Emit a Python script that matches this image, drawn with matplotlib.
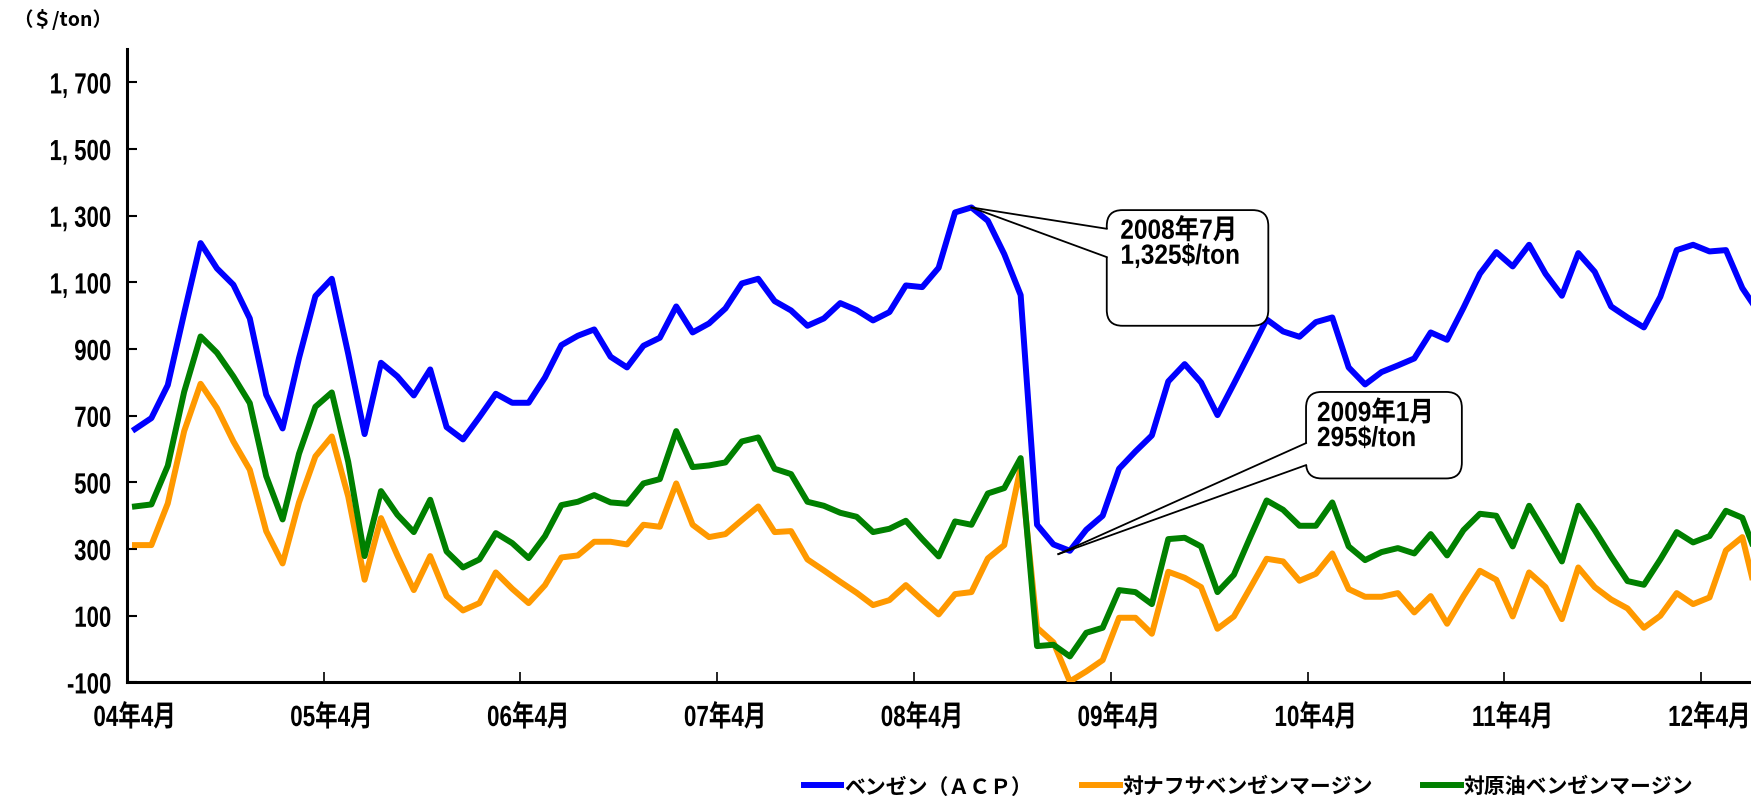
import matplotlib
matplotlib.use('Agg')
import matplotlib.pyplot as plt
from matplotlib.patches import FancyBboxPatch, Polygon
from matplotlib.lines import Line2D
from matplotlib.font_manager import FontProperties
from matplotlib.patheffects import AbstractPathEffect
from matplotlib.transforms import Affine2D
import pandas as pd

LAT = 'Liberation Sans'
JP = 'Noto Sans CJK JP'

# ---------------- data ----------------
months = pd.period_range('2004-04', periods=100, freq='M')

benzene_acp = [660, 693, 792, 1008, 1218, 1142, 1093, 992, 763, 662,
               873, 1059, 1111, 886, 645, 859, 818, 761, 839, 666,
               629, 696, 766, 739, 739, 815, 912, 940, 959, 877,
               845, 910, 934, 1028, 950, 977, 1022, 1097, 1111, 1044,
               1016, 970, 992, 1038, 1017, 986, 1011, 1091, 1086, 1144,
               1310, 1325, 1285, 1185, 1062, 373, 314, 295, 358, 400,
               541, 593, 641, 803, 855, 800, 702, 796, 892, 989,
               953, 937, 981, 995, 845, 794, 831, 851, 872, 950,
               928, 1024, 1126, 1191, 1148, 1213, 1126, 1060, 1188, 1132,
               1028, 995, 965, 1057, 1197, 1213, 1193, 1197, 1083, 1010]

naphtha_margin = [312, 312, 437, 654, 796, 723, 623, 538, 354, 257,
                  440, 578, 638, 458, 208, 393, 281, 177, 279, 159,
                  116, 138, 230, 181, 138, 192, 275, 281, 322, 322,
                  314, 373, 367, 497, 373, 336, 345, 387, 428, 351,
                  354, 269, 236, 202, 169, 132, 147, 192, 147, 104,
                  165, 171, 272, 312, 545, 64, 20, -97, -67, -33,
                  94, 94, 46, 232, 214, 186, 61, 98, 184, 271,
                  263, 205, 226, 287, 180, 157, 157, 168, 110, 159,
                  76, 159, 235, 208, 98, 230, 186, 90, 245, 186,
                  149, 122, 64, 100, 168, 135, 155, 296, 336, 133]

crude_margin = [428, 434, 550, 772, 938, 889, 818, 738, 519, 389,
                586, 727, 770, 562, 279, 474, 403, 351, 448, 293,
                245, 269, 348, 318, 273, 339, 432, 442, 462, 440,
                436, 497, 510, 654, 546, 551, 560, 623, 635, 541,
                525, 442, 430, 409, 397, 351, 361, 385, 330, 278,
                383, 373, 467, 483, 573, 9, 13, -22, 49, 64,
                177, 171, 135, 330, 334, 308, 171, 223, 336, 446,
                418, 370, 370, 440, 308, 267, 291, 303, 287, 345,
                281, 357, 406, 400, 308, 430, 348, 263, 430, 357,
                278, 204, 193, 269, 351, 320, 339, 415, 394, 265]

series_names = ['ベンゼン（ＡＣＰ）', '対ナフサベンゼンマージン', '対原油ベンゼンマージン']
series_colors = ['#0000FF', '#FF9900', '#008000']

ytick_values = [-100, 100, 300, 500, 700, 900, 1100, 1300, 1500, 1700]
ytick_labels = ['-100', '100', '300', '500', '700', '900', '1, 100', '1, 300', '1, 500', '1, 700']
xtick_labels = ['04年4月', '05年4月', '06年4月', '07年4月', '08年4月',
                '09年4月', '10年4月', '11年4月', '12年4月']

callout1_text = '2008年7月\n1,325$/ton'
callout2_text = '2009年1月\n295$/ton'
unit_label = '（＄/ton）'


class HScale(AbstractPathEffect):
    """Horizontally condense text glyphs (narrow gothic look)."""

    def __init__(self, sx, anchor='left'):
        super().__init__()
        self.sx = sx
        self.anchor = anchor

    def draw_path(self, renderer, gc, tpath, affine, rgbFace=None):
        ext = tpath.get_extents()
        if self.anchor == 'left':
            ox = ext.x0
        elif self.anchor == 'right':
            ox = ext.x1
        else:
            ox = 0.5 * (ext.x0 + ext.x1)
        t = Affine2D().translate(-ox, 0).scale(self.sx, 1).translate(ox, 0) + affine
        renderer.draw_path(gc, tpath, t, rgbFace)


# ---------------- figure ----------------
fig = plt.figure(figsize=(17.51, 8.03), dpi=100)
ax = fig.add_axes([0.0724, 0.1489, 0.9277, 0.7887])

x = list(range(len(months)))
for vals, name, col in zip([benzene_acp, naphtha_margin, crude_margin], series_names, series_colors):
    ax.plot(x, vals, color=col, lw=4.3, label=name, zorder=3)

ax.set_xlim(-0.5, 98.54)
ax.set_ylim(-100, 1800)

for s in ['top', 'right']:
    ax.spines[s].set_visible(False)
for s in ['left', 'bottom']:
    ax.spines[s].set_linewidth(2.2)

ax.set_yticks(ytick_values)
ax.set_yticklabels(ytick_labels)
for lab in ax.get_yticklabels():
    lab.set_fontfamily([LAT, JP])
    lab.set_fontweight('bold')
    lab.set_fontsize(21)
    lab.set_path_effects([HScale(0.76, 'right')])
ax.tick_params(axis='y', direction='in', length=7, width=1.5, pad=11)

label_pos = [i for i, m in enumerate(months) if m.month == 4]
boundary_pos = [p - 0.5 for p in label_pos[1:]]
ax.set_xticks(boundary_pos)
ax.set_xticklabels([''] * len(boundary_pos))
ax.set_xticks(label_pos, minor=True)
ax.set_xticklabels(xtick_labels, minor=True)
for lab in ax.get_xticklabels(minor=True):
    lab.set_fontfamily([LAT, JP])
    lab.set_fontweight('bold')
    lab.set_fontsize(21)
    lab.set_path_effects([HScale(0.77, 'center')])
ax.tick_params(axis='x', which='major', direction='in', length=7, width=1.2)
ax.tick_params(axis='x', which='minor', length=0, pad=15.5)


def callout(tip, box, base, text, text_xy):
    x0, y0, x1, y1 = box
    bb = FancyBboxPatch((x0, y0), x1 - x0, y1 - y0,
                        boxstyle='round,pad=0,rounding_size=0.95',
                        mutation_aspect=50, facecolor='white',
                        edgecolor='black', lw=1.3, zorder=5)
    ax.add_patch(bb)
    yb1, yb2 = base
    poly = Polygon([tip, (x0, yb1), (x0 + 0.2, yb1), (x0 + 0.2, yb2), (x0, yb2)],
                   closed=True, facecolor='white', edgecolor='none', zorder=6)
    ax.add_patch(poly)
    for yb in (yb1, yb2):
        ax.add_line(Line2D([tip[0], x0], [tip[1], yb], color='black', lw=1.3, zorder=7))
    t = ax.text(text_xy[0], text_xy[1], text, ha='left', va='top',
                fontfamily=[LAT, JP], fontweight='bold', fontsize=20,
                linespacing=0.95, zorder=8)
    t.set_path_effects([HScale(0.88, 'left')])


peak_i = 51
callout((peak_i, benzene_acp[peak_i]), (59.25, 970, 69.1, 1317), (1261, 1176),
        callout1_text, (60.07, 1291))
callout((56.3, 285), (71.4, 512, 80.9, 771.5), (618, 552),
        callout2_text, (72.06, 744))

fig.text(13 / 1751, 1 - 19 / 803, unit_label, ha='left', va='center',
         fontfamily=[JP], fontweight='bold', fontsize=14)

handles = [Line2D([], [], color=c, lw=4.3) for c in series_colors]
fig.legend(handles, series_names, loc='center', bbox_to_anchor=(0.713, 1 - 787 / 803),
           ncol=3, frameon=False, handlelength=1.8, handletextpad=0.15,
           columnspacing=2.4, prop=FontProperties(family=JP, weight='bold', size=15))

fig.savefig('out.png', dpi=100)
